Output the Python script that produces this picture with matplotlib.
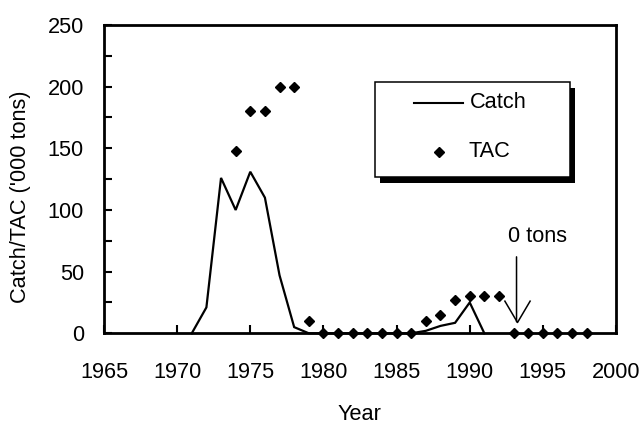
import matplotlib.pyplot as plt
from matplotlib.patches import Rectangle
from matplotlib.path import Path
from matplotlib.ticker import MultipleLocator

plt.rcParams['font.family'] = ['Liberation Sans', 'DejaVu Sans']
FS = 15.7

# catch, '000 tons
catch_years = list(range(1971, 1992))
catch = [0, 21, 126, 100, 131, 110, 47, 5,
         0, 0, 0, 0, 0, 0, 0, 0,
         2, 6, 8.5, 25, 0]

# total allowable catch, '000 tons
tac_years = list(range(1974, 1999))
tac = [148, 180, 180, 200, 200, 10,
       0, 0, 0, 0, 0, 0, 0,
       10, 15, 27, 30, 30, 30,
       0, 0, 0, 0, 0, 0]

x_ticks = list(range(1965, 2001, 5))
y_ticks = list(range(0, 251, 50))
labels = ["Catch", "TAC"]

fig = plt.figure(figsize=(6.41, 4.23), dpi=100)
ax = fig.add_axes([104 / 641, 1 - 333.3 / 423, 512 / 641, 308.3 / 423])

ax.plot(catch_years, catch, color='black', lw=1.6, solid_joinstyle='miter', clip_on=False)
ax.plot(tac_years, tac, linestyle='none', marker='D', markersize=4.8,
        color='black', clip_on=False, zorder=3)

ax.set_xlim(1965, 2000)
ax.set_ylim(0, 250)
ax.set_xticks(x_ticks)
ax.set_yticks(y_ticks)
ax.yaxis.set_minor_locator(MultipleLocator(25))
ax.tick_params(axis='both', which='both', direction='in', length=6, width=1.5,
               top=False, right=False, labelsize=FS)
ax.tick_params(axis='x', pad=21)
ax.tick_params(axis='y', pad=14.5)
for s in ax.spines.values():
    s.set_linewidth(2)

fig.text(359 / 641, 1 - 419.5 / 423, "Year", ha='center', va='baseline', fontsize=FS)
fig.text(21 / 641, 1 - 197 / 423, "Catch/TAC ('000 tons)", ha='center', va='center',
         rotation=90, fontsize=FS)

# legend box with hard black shadow
ax.add_patch(Rectangle((0.5391, 0.4885), 0.3809, 0.308, transform=ax.transAxes,
                       facecolor='black', edgecolor='black', lw=0, zorder=4))
ax.add_patch(Rectangle((0.5293, 0.508), 0.3809, 0.308, transform=ax.transAxes,
                       facecolor='white', edgecolor='black', lw=1.1, zorder=5))
ax.plot([0.6055, 0.7018], [0.747, 0.747], transform=ax.transAxes, color='black',
        lw=1.5, zorder=6)
ax.text(0.714, 0.747, labels[0], transform=ax.transAxes, ha='left', va='center',
        fontsize=FS, zorder=6)
ax.plot([0.655], [0.589], transform=ax.transAxes, marker='D', markersize=4.8,
        color='black', zorder=6)
ax.text(0.711, 0.589, labels[1], transform=ax.transAxes, ha='left', va='center',
        fontsize=FS, zorder=6)

# zero quota note: shaft + open "v" head
arrow_x, arrow_tip, arrow_top = 1993.2, 9.4, 62
ax.annotate('', xy=(arrow_x, arrow_tip), xytext=(arrow_x, arrow_top),
            arrowprops=dict(arrowstyle='-', lw=1.1, color='black',
                            shrinkA=0, shrinkB=0))
head = Path([(-13, 22), (0, 0), (13, 22)], [Path.MOVETO, Path.LINETO, Path.LINETO])
ax.plot([arrow_x], [arrow_tip], marker=head, markersize=31.7, fillstyle='none',
        markeredgecolor='black', markeredgewidth=1.1, linestyle='none', zorder=10)
ax.text(1994.6, 74.3, "0 tons", ha='center', va='baseline', fontsize=FS)

fig.savefig("out.png", dpi=100)
